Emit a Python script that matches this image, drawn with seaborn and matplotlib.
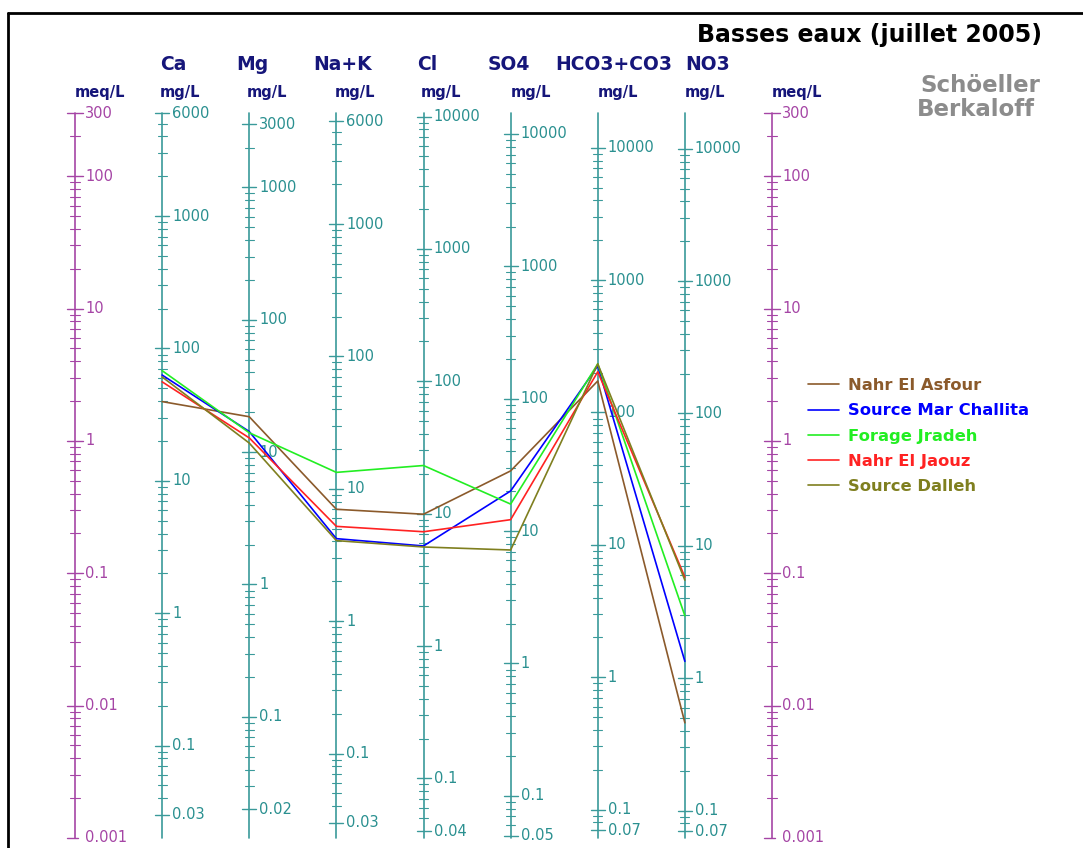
import numpy as np
import pandas as pd
import seaborn as sns
import matplotlib.pyplot as plt
from matplotlib.lines import Line2D

sns.set_theme(style="white")
plt.rcParams['font.family'] = ['DejaVu Sans']

# ---------------- data ----------------
ions = ["Ca", "Mg", "Na+K", "Cl", "SO4", "HCO3+CO3", "NO3"]
eq_weights = [20.04, 12.15, 23.0, 35.45, 48.03, 61.02, 62.0]   # mg per meq
samples = ["Nahr El Asfour", "Source Mar Challita", "Forage Jradeh",
           "Nahr El Jaouz", "Source Dalleh"]
colors = ["#8b5a2b", "#0000ff", "#22ee22", "#ff2222", "#7f7f1f"]

# concentrations in mg/L, order = ions
nahr_el_asfour = [39.7, 18.5, 7.0, 9.9, 28.5, 173, 0.46]
source_mar_challita = [63, 14.3, 4.2, 5.7, 20.1, 225, 1.34]
forage_jradeh = [68, 14.0, 13.3, 23.1, 16.0, 233, 2.96]
nahr_el_jaouz = [56, 12.8, 5.2, 7.3, 12.2, 203, 5.8]
source_dalleh = [61, 11.7, 4.06, 5.6, 7.2, 233, 5.5]
series = [nahr_el_asfour, source_mar_challita, forage_jradeh, nahr_el_jaouz, source_dalleh]

meq_min, meq_max = 0.001, 300
meq_labels = [300, 100, 10, 1, 0.1, 0.01, 0.001]

# ---------------- styling ----------------
W, H = 1083, 848
TEAL = "#3a9a9a"
TEAL_TXT = "#2a9090"
PURPLE = "#a545a5"
NAVY = "#16167a"

def fx(px):
    return px / W

def fy(py):
    return 1 - py / H

fig = plt.figure(figsize=(W / 100, H / 100), dpi=100)
ax = fig.add_axes([fx(75), fy(838), fx(772) - fx(75), fy(113) - fy(838)])
ax.set_yscale("log")
ax.set_ylim(meq_min, meq_max)
ax.set_xlim(0, 8)
ax.axis("off")

PX = 8 / (772 - 75)  # data units per pixel along x


def ticks_in_range(lo, hi):
    out = []
    for n in range(-5, 7):
        for k in range(1, 10):
            v = k * 10.0 ** n
            if lo * (1 - 1e-9) <= v <= hi * (1 + 1e-9):
                out.append(v)
    return out


def is_decade(v):
    lg = np.log10(v)
    return abs(lg - round(lg)) < 1e-9


def fmt(v):
    return f"{v:g}"

# meq/L axes (left & right)
for xpos in (0, 8):
    ax.plot([xpos, xpos], [meq_min, meq_max], color=PURPLE, lw=1.2, clip_on=False, zorder=1)
    for v in ticks_in_range(meq_min, meq_max):
        major = v in meq_labels
        half = (8 if major else 5) * PX
        ax.plot([xpos - half, xpos + half * (0.4 if v == meq_min else 1)], [v, v],
                color=PURPLE, lw=1.0 if major else 0.8, clip_on=False, zorder=1)
    for v in meq_labels:
        ax.text(xpos + 10 * PX, v, fmt(v), color=PURPLE, fontsize=10.5,
                va="center", ha="left", clip_on=False)

# ion axes
for i, (ion, w) in enumerate(zip(ions, eq_weights)):
    xpos = i + 1
    ax.plot([xpos, xpos], [meq_min, meq_max], color=TEAL, lw=1.2, clip_on=False, zorder=1)
    tks = ticks_in_range(meq_min * w, meq_max * w)
    labelled = set([tks[0], tks[-1]] + [t for t in tks if is_decade(t)])
    for t in tks:
        major = t in labelled
        half = (7 if major else 4.5) * PX
        ax.plot([xpos - half, xpos + half], [t / w, t / w], color=TEAL,
                lw=1.0 if major else 0.8, clip_on=False, zorder=1)
    for t in labelled:
        ax.text(xpos + 10 * PX, t / w, fmt(t), color=TEAL_TXT, fontsize=10.5,
                va="center", ha="left", clip_on=False)

# sample lines
rows = []
for name, vals in zip(samples, series):
    for i, (v, w) in enumerate(zip(vals, eq_weights)):
        rows.append({"sample": name, "pos": i + 1, "meq": v / w})
df = pd.DataFrame(rows)
sns.lineplot(data=df, x="pos", y="meq", hue="sample", hue_order=samples,
             palette=colors, sort=False, estimator=None, lw=1.2, ax=ax, zorder=3)
ax.set_xlim(0, 8)
ax.set_ylim(meq_min, meq_max)
ax.axis("off")
sns.move_legend(ax, loc="upper left", bbox_to_anchor=(fx(800), fy(370)),
                bbox_transform=fig.transFigure, frameon=False, title=None,
                handlelength=1.9, handletextpad=0.5, labelspacing=0.62,
                borderpad=0, labelcolor="linecolor",
                prop={"weight": "bold", "size": 11.8})

# headers
header_x = [160, 236, 313, 417, 488, 555, 685]
for name, hx in zip(ions, header_x):
    fig.text(fx(hx), fy(65), name, color=NAVY, fontsize=13.5, fontweight="bold",
             ha="left", va="center")
unit_x = [75, 160, 247, 335, 421, 511, 598, 685, 772]
for k, ux in enumerate(unit_x):
    lab = "meq/L" if k in (0, 8) else "mg/L"
    fig.text(fx(ux), fy(92), lab, color=NAVY, fontsize=10.5, fontweight="bold",
             ha="left", va="center")

fig.text(fx(1042), fy(35), "Basses eaux (juillet 2005)", color="black",
         fontsize=17, fontweight="bold", ha="right", va="center")
fig.text(fx(1040), fy(85), "Schöeller", color="#8c8c8c", fontsize=16.5,
         fontweight="bold", ha="right", va="center")
fig.text(fx(1035), fy(110), "Berkaloff", color="#8c8c8c", fontsize=16.5,
         fontweight="bold", ha="right", va="center")

# frame (top and left)
fig.add_artist(Line2D([fx(8), fx(8)], [0, fy(13)], transform=fig.transFigure,
                      color="black", lw=2))
fig.add_artist(Line2D([fx(8), 1], [fy(13), fy(13)], transform=fig.transFigure,
                      color="black", lw=2))

fig.savefig("out.png", dpi=100, facecolor="white")
